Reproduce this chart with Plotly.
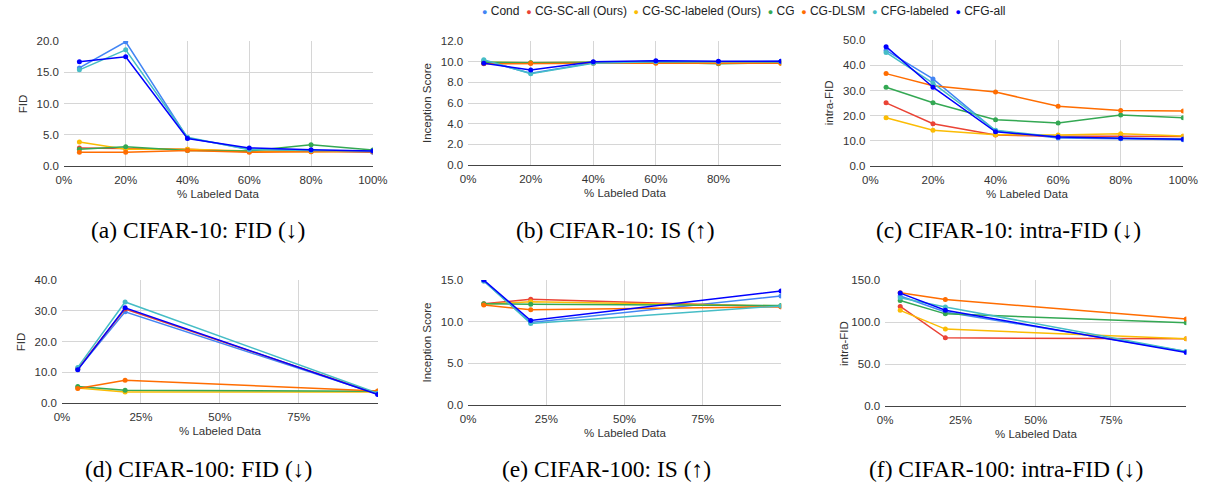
import plotly.graph_objects as go

# ---------------- data ----------------
series = ["Cond", "CG-SC-all (Ours)", "CG-SC-labeled (Ours)", "CG", "CG-DLSM", "CFG-labeled", "CFG-all"]
colors = ["#4285F4", "#EA4335", "#FBBC04", "#34A853", "#FF6D01", "#46BDC6", "#0000FF"]

x10 = [0.05, 0.20, 0.40, 0.60, 0.80, 1.00]
x100 = [0.05, 0.20, 1.00]

# CIFAR-10 FID
c10_fid = {
    "Cond": [15.7, 19.9, 4.5, 2.7, 2.5, 2.2],
    "CG-SC-all (Ours)": [2.9, 2.8, 2.7, 2.3, 2.4, 2.3],
    "CG-SC-labeled (Ours)": [3.85, 2.7, 2.7, 2.4, 2.3, 2.4],
    "CG": [2.7, 3.1, 2.5, 2.4, 3.4, 2.55],
    "CG-DLSM": [2.2, 2.2, 2.5, 2.2, 2.3, 2.3],
    "CFG-labeled": [15.4, 18.6, 4.6, 2.6, 2.5, 2.4],
    "CFG-all": [16.7, 17.5, 4.4, 2.9, 2.6, 2.4],
}
# CIFAR-10 IS
c10_is = {
    "Cond": [10.1, 8.9, 9.9, 10.05, 10.0, 10.05],
    "CG-SC-all (Ours)": [9.85, 9.85, 9.9, 9.9, 9.9, 9.9],
    "CG-SC-labeled (Ours)": [9.95, 9.9, 9.95, 9.9, 9.9, 9.85],
    "CG": [9.95, 9.9, 9.95, 9.95, 9.8, 9.9],
    "CG-DLSM": [9.8, 9.85, 9.85, 9.85, 9.85, 9.85],
    "CFG-labeled": [10.2, 8.85, 9.85, 10.0, 10.0, 10.0],
    "CFG-all": [9.85, 9.2, 10.0, 10.1, 10.05, 10.05],
}
# CIFAR-10 intra-FID
c10_ifid = {
    "Cond": [45.9, 34.6, 14.0, 11.1, 10.8, 10.4],
    "CG-SC-all (Ours)": [25.1, 16.8, 12.3, 11.8, 11.8, 11.7],
    "CG-SC-labeled (Ours)": [19.2, 14.2, 12.4, 12.3, 12.8, 11.9],
    "CG": [31.3, 25.1, 18.4, 17.1, 20.3, 19.2],
    "CG-DLSM": [36.7, 31.9, 29.4, 23.7, 22.0, 21.8],
    "CFG-labeled": [45.1, 32.9, 14.2, 11.5, 11.0, 10.7],
    "CFG-all": [47.4, 31.3, 13.6, 11.5, 11.0, 10.6],
}
# CIFAR-100 FID
c100_fid = {
    "Cond": [11.0, 29.7, 2.9],
    "CG-SC-all (Ours)": [11.2, 30.6, 3.0],
    "CG-SC-labeled (Ours)": [4.9, 3.6, 3.6],
    "CG": [5.4, 4.2, 3.8],
    "CG-DLSM": [4.7, 7.4, 3.9],
    "CFG-labeled": [11.6, 32.9, 3.2],
    "CFG-all": [10.8, 31.0, 2.8],
}
# CIFAR-100 IS
c100_is = {
    "Cond": [14.9, 9.9, 13.1],
    "CG-SC-all (Ours)": [12.15, 12.7, 11.8],
    "CG-SC-labeled (Ours)": [12.1, 12.4, 11.9],
    "CG": [12.15, 12.1, 11.95],
    "CG-DLSM": [12.0, 11.45, 11.8],
    "CFG-labeled": [14.9, 9.8, 11.9],
    "CFG-all": [15.0, 10.15, 13.7],
}
# CIFAR-100 intra-FID
c100_ifid = {
    "Cond": [131.0, 112.0, 65.0],
    "CG-SC-all (Ours)": [118.7, 81.2, 80.0],
    "CG-SC-labeled (Ours)": [114.0, 91.6, 80.0],
    "CG": [125.6, 109.8, 99.3],
    "CG-DLSM": [135.0, 126.8, 103.6],
    "CFG-labeled": [129.0, 118.0, 65.0],
    "CFG-all": [134.5, 114.0, 63.8],
}

captions = ["(a) CIFAR-10: FID (↓)", "(b) CIFAR-10: IS (↑)", "(c) CIFAR-10: intra-FID (↓)",
            "(d) CIFAR-100: FID (↓)", "(e) CIFAR-100: IS (↑)", "(f) CIFAR-100: intra-FID (↓)"]
y_titles = ["FID", "Inception Score", "intra-FID", "FID", "Inception Score", "intra-FID"]
x_title = "% Labeled Data"

ticks10 = [0, 0.2, 0.4, 0.6, 0.8, 1.0]
ticks100 = [0, 0.25, 0.5, 0.75, 1.0]

# ---------------- layout helpers ----------------
W, H = 1220, 490

def px_x(p):
    return p / W

def px_y(p):
    return 1 - p / H

panels = [
    (c10_fid, x10, (57, 372, 36, 164), [0, 20], 5, ticks10, ["0%", "20%", "40%", "60%", "80%", "100%"]),
    (c10_is, x10, (469, 788, 36, 163), [0, 12], 2, ticks10, ["0%", "20%", "40%", "60%", "80%", ""]),
    (c10_ifid, x10, (879, 1198, 35, 164), [0, 50], 10, ticks10, ["0%", "20%", "40%", "60%", "80%", "100%"]),
    (c100_fid, x100, (55, 377, 281, 407), [0, 40], 10, ticks100, ["0%", "25%", "50%", "75%", ""]),
    (c100_is, x100, (469, 788, 281, 409), [0, 15], 5, ticks100, ["0%", "25%", "50%", "75%", ""]),
    (c100_ifid, x100, (894, 1201, 281, 410), [0, 150], 50, ticks100, ["0%", "25%", "50%", "75%", ""]),
]

caption_pos = [(194, 230), (619, 230), (1020, 230), (194, 475), (610, 475), (1017, 475)]

fig = go.Figure()
annotations = []
layout_axes = {}
tick_font = dict(family="Liberation Sans, Arial", size=11.5, color="#333333")

for i, (data, xs, box, yr, dt, tv, tt) in enumerate(panels):
    n = i + 1
    xa = "x" if n == 1 else f"x{n}"
    ya = "y" if n == 1 else f"y{n}"
    x0, x1, y0, y1 = box
    for name, col in zip(series, colors):
        fig.add_trace(go.Scatter(
            x=xs, y=data[name], name=name, mode="lines+markers",
            line=dict(color=col, width=1.5),
            marker=dict(color=col, size=5),
            xaxis=xa, yaxis=ya, showlegend=False,
        ))
    layout_axes[f"xaxis{'' if n == 1 else n}"] = dict(
        domain=[px_x(x0), px_x(x1)], anchor=ya, range=[0, 1.0005],
        tickvals=tv, ticktext=tt, showgrid=True, gridcolor="#d6d6d6", gridwidth=1,
        zeroline=False, showline=True, linecolor="#444444", linewidth=1.4,
        tickfont=tick_font, ticks="", ticklabelstandoff=3,
    )
    layout_axes[f"yaxis{'' if n == 1 else n}"] = dict(
        domain=[px_y(y1), px_y(y0)], anchor=xa, range=yr, dtick=dt, tick0=0,
        tickformat=".1f", showgrid=True, gridcolor="#d6d6d6", gridwidth=1,
        zeroline=False, showline=False, tickfont=tick_font, ticks="", ticklabelstandoff=4,
    )
    annotations.append(dict(
        text=x_title, xref="paper", yref="paper", x=px_x((x0 + x1) / 2), y=px_y(y1 + 29),
        showarrow=False, font=dict(family="Liberation Sans, Arial", size=11.5, color="#333333"),
        xanchor="center", yanchor="middle",
    ))
    annotations.append(dict(
        text=y_titles[i], xref="paper", yref="paper", x=px_x(x0 - 42), y=px_y((y0 + y1) / 2),
        showarrow=False, textangle=-90,
        font=dict(family="Liberation Sans, Arial", size=11.5, color="#333333"),
        xanchor="center", yanchor="middle",
    ))
    cx, cy = caption_pos[i]
    annotations.append(dict(
        text=captions[i], xref="paper", yref="paper", x=px_x(cx), y=px_y(cy),
        showarrow=False, font=dict(family="Liberation Serif, Times New Roman", size=23.5, color="#000000"),
        xanchor="center", yanchor="middle",
    ))

# legend built from the series names/colours
legend_parts = []
for name, col in zip(series, colors):
    legend_parts.append(f"<span style='color:{col};font-size:9px'>●</span> {name}")
legend_text = "  ".join(legend_parts)
annotations.append(dict(
    text=legend_text, xref="paper", yref="paper", x=px_x(750), y=px_y(5),
    showarrow=False, font=dict(family="Liberation Sans, Arial", size=12, color="#222222"),
    xanchor="center", yanchor="middle",
))

fig.update_layout(
    width=W, height=H, margin=dict(l=0, r=0, t=0, b=0),
    paper_bgcolor="white", plot_bgcolor="white",
    annotations=annotations, showlegend=False,
    **layout_axes,
)

fig.write_html("out.html", config={"displayModeBar": False},
               post_script="document.body.style.margin='0';document.body.style.overflow='hidden';")
